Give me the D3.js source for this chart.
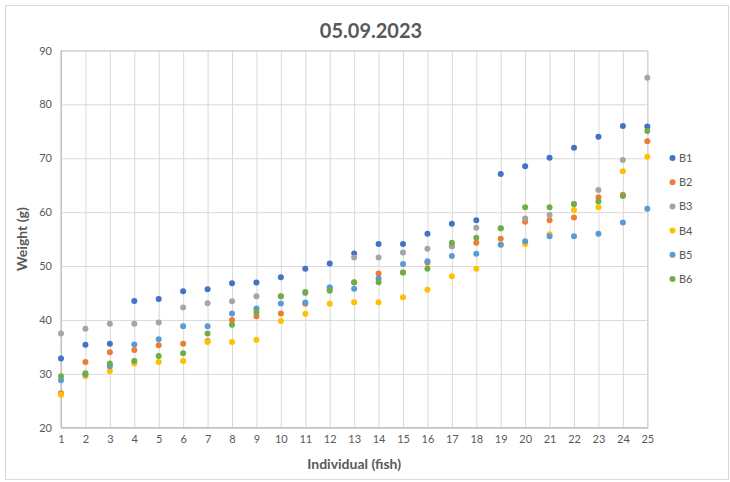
<!DOCTYPE html>
<html>
<head>
<meta charset="utf-8">
<script src="https://cdn.jsdelivr.net/npm/d3@7"></script>
<style>
  html, body { margin: 0; padding: 0; background: #fff; }
  svg { display: block; font-family: Lato, "Open Sans", sans-serif; }
</style>
</head>
<body>
<svg id="chart" width="730" height="482"></svg>
<script>
const title = "05.09.2023";
const xTitle = "Individual (fish)";
const yTitle = "Weight (g)";
const individuals = d3.range(1, 26);
const xTicks = d3.range(1, 26);
const yTicks = [20, 30, 40, 50, 60, 70, 80, 90];
const seriesNames = ["B1", "B2", "B3", "B4", "B5", "B6"];
const seriesColors = ["#4472C4", "#ED7D31", "#A5A5A5", "#FFC000", "#5B9BD5", "#70AD47"];

const B1 = [32.85, 35.4, 35.6, 43.5, 43.9, 45.3, 45.7, 46.8, 46.95, 47.9, 49.5, 50.45, 52.35, 54.1, 54.1, 56.0, 57.85, 58.5, 67.1, 68.5, 70.1, 71.95, 74.0, 76.0, 75.9];
const B2 = [26.4, 32.2, 34.0, 34.4, 35.3, 35.6, 36.1, 40.0, 40.7, 41.2, 43.0, 45.6, 47.0, 48.6, 48.8, 50.6, 53.65, 54.3, 55.05, 58.2, 58.5, 59.0, 62.75, 63.25, 73.15];
const B3 = [37.5, 38.35, 39.3, 39.3, 39.5, 42.3, 43.1, 43.45, 44.4, 44.4, 45.0, 46.0, 51.6, 51.6, 52.5, 53.2, 53.65, 57.1, 57.0, 58.8, 59.45, 61.5, 64.1, 69.7, 84.95];
const B4 = [26.1, 29.56, 30.5, 31.9, 32.2, 32.4, 35.9, 35.9, 36.3, 39.8, 41.15, 43.0, 43.3, 43.3, 44.2, 45.6, 48.1, 49.5, 54.0, 54.1, 55.9, 60.4, 60.9, 67.6, 70.3];
const B5 = [28.8, 29.9, 31.4, 35.45, 36.4, 38.85, 38.85, 41.2, 42.1, 43.05, 43.25, 46.0, 45.8, 47.7, 50.4, 50.9, 51.85, 52.3, 53.95, 54.6, 55.55, 55.55, 56.0, 58.1, 60.65];
const B6 = [29.56, 30.1, 31.9, 32.4, 33.3, 33.8, 37.5, 39.1, 41.45, 44.4, 45.2, 45.4, 46.95, 47.0, 48.8, 49.5, 54.3, 55.25, 57.0, 60.9, 60.9, 61.5, 62.0, 63.0, 75.05];
const seriesValues = [B1, B2, B3, B4, B5, B6];

const svg = d3.select("#chart");
const W = 730, H = 482;
const plot = { left: 61, right: 647.3, top: 50.5, bottom: 427.7 };

svg.append("rect").attr("x", 5.5).attr("y", 5.5).attr("width", 723).attr("height", 474)
  .attr("fill", "#fff").attr("stroke", "#d9d9d9").attr("stroke-width", 1);

const x = d3.scaleLinear().domain([1, 25]).range([plot.left, plot.right]);
const y = d3.scaleLinear().domain([20, 90]).range([plot.bottom, plot.top]);

// grid
const gx = svg.append("g").attr("transform", `translate(0,${plot.bottom})`)
  .call(d3.axisBottom(x).tickValues(xTicks).tickFormat(d3.format("d"))
    .tickSize(-(plot.bottom - plot.top)).tickPadding(8));
gx.select(".domain").attr("stroke", "#bfbfbf");
gx.selectAll(".tick line").attr("stroke", "#d9d9d9");
gx.selectAll(".tick text").attr("fill", "#595959").style("font-size", "11px")
  .style("font-family", "Lato, 'Open Sans', sans-serif");

const gy = svg.append("g").attr("transform", `translate(${plot.left},0)`)
  .call(d3.axisLeft(y).tickValues(yTicks).tickFormat(d3.format("d"))
    .tickSize(-(plot.right - plot.left)).tickPadding(9));
gy.select(".domain").attr("stroke", "#bfbfbf");
gy.selectAll(".tick line").attr("stroke", "#d9d9d9");
gy.selectAll(".tick text").attr("fill", "#595959").style("font-size", "11px")
  .style("font-family", "Lato, 'Open Sans', sans-serif");

// re-draw axis baselines on top of grid
svg.append("line").attr("x1", plot.left).attr("x2", plot.left).attr("y1", plot.top).attr("y2", plot.bottom)
  .attr("stroke", "#bfbfbf");
svg.append("line").attr("x1", plot.left).attr("x2", plot.right).attr("y1", plot.bottom).attr("y2", plot.bottom)
  .attr("stroke", "#bfbfbf");

// points
seriesValues.forEach((vals, i) => {
  svg.append("g").selectAll("circle")
    .data(vals.map((v, j) => ({ x: individuals[j], y: v })))
    .join("circle")
    .attr("cx", d => x(d.x))
    .attr("cy", d => y(d.y))
    .attr("r", 3)
    .attr("fill", seriesColors[i]);
});

// title
svg.append("text").attr("x", 371).attr("y", 38).attr("text-anchor", "middle")
  .attr("fill", "#595959").style("font-size", "20px").style("font-weight", "bold")
  .text(title);

// axis titles
svg.append("text").attr("x", (plot.left + plot.right) / 2).attr("y", 469).attr("text-anchor", "middle")
  .attr("fill", "#595959").style("font-size", "14px").style("font-weight", "bold")
  .text(xTitle);
svg.append("text").attr("transform", `translate(27,${(plot.top + plot.bottom) / 2}) rotate(-90)`)
  .attr("text-anchor", "middle")
  .attr("fill", "#595959").style("font-size", "14px").style("font-weight", "bold")
  .text(yTitle);

// legend
const legend = svg.append("g");
seriesNames.forEach((name, i) => {
  const ly = 158 + i * 24.2;
  legend.append("circle").attr("cx", 672.5).attr("cy", ly).attr("r", 3).attr("fill", seriesColors[i]);
  legend.append("text").attr("x", 679).attr("y", ly + 4).attr("fill", "#595959")
    .style("font-size", "11px").text(name);
});
</script>
</body>
</html>
